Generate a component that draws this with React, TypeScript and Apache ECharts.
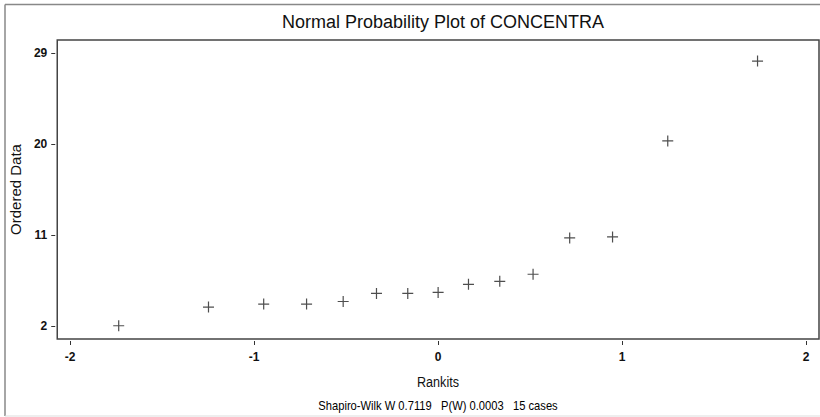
import React, { useEffect, useRef } from "react";
import * as echarts from "echarts";

const rankits = [-1.736, -1.248, -0.948, -0.715, -0.516, -0.335, -0.165, 0, 0.165, 0.335, 0.516, 0.715, 0.948, 1.248, 1.736];
const orderedData = [2.0, 3.85, 4.15, 4.15, 4.4, 5.2, 5.2, 5.3, 6.1, 6.4, 7.1, 10.7, 10.8, 20.3, 28.2];
const xTicks = [-2, -1, 0, 1, 2];
const yTicks = [2, 11, 20, 29];
const titleText = "Normal Probability Plot of CONCENTRA";
const xAxisTitle = "Rankits";
const yAxisTitle = "Ordered Data";
const footerText = "Shapiro-Wilk W 0.7119   P(W) 0.0003   15 cases";

const PLUS = "path://M-0.6,-5.5h1.2v4.9h4.9v1.2h-4.9v4.9h-1.2v-4.9h-4.9v-1.2h4.9z";

export default function App() {
  const ref = useRef<HTMLDivElement>(null);
  useEffect(() => {
    if (!ref.current) return;
    const chart = echarts.init(ref.current, null, { renderer: "svg" });
    const points = rankits.map((x, i) => [x, orderedData[i]]);
    chart.setOption({
      animation: false,
      backgroundColor: "#ffffff",
      title: {
        text: titleText,
        left: 438,
        top: 8,
        textAlign: "center",
        textStyle: { fontFamily: "Liberation Sans", fontSize: 18, fontWeight: "normal", color: "#111" },
      },
      grid: {
        left: 57,
        right: 1,
        top: 40,
        bottom: 78,
        show: true,
        borderColor: "#444",
        borderWidth: 1.5,
        backgroundColor: "transparent",
      },
      xAxis: {
        type: "value",
        min: -2.07,
        max: 2.07,
        offset: 2,
        axisLine: { show: false, onZero: false },
        axisTick: { show: true, length: 4, customValues: xTicks, lineStyle: { color: "#333", width: 1 } },
        axisLabel: {
          customValues: xTicks,
          margin: 10,
          fontFamily: "Liberation Sans",
          fontWeight: "bold",
          fontSize: 12,
          color: "#111",
        },
        splitLine: { show: false },
      },
      yAxis: {
        type: "value",
        min: 0.69,
        max: 30.29,
        offset: 2,
        name: yAxisTitle,
        nameLocation: "middle",
        nameGap: 30,
        nameTextStyle: { fontFamily: "Liberation Sans", fontSize: 15, color: "#111" },
        axisLine: { show: false, onZero: false },
        axisTick: { show: true, length: 4, customValues: yTicks, lineStyle: { color: "#333", width: 1 } },
        axisLabel: {
          customValues: yTicks,
          margin: 8,
          fontFamily: "Liberation Sans",
          fontWeight: "bold",
          fontSize: 12,
          color: "#111",
        },
        splitLine: { show: false },
      },
      graphic: [
        {
          type: "line",
          silent: true,
          shape: { x1: 5, y1: 4.5, x2: 820, y2: 4.5 },
          style: { stroke: "#888", lineWidth: 1.5 },
        },
        {
          type: "line",
          silent: true,
          shape: { x1: 5, y1: 4.5, x2: 5, y2: 416 },
          style: { stroke: "#888", lineWidth: 1.5 },
        },
        {
          type: "line",
          silent: true,
          shape: { x1: 5, y1: 416, x2: 820, y2: 416 },
          style: { stroke: "#ddd", lineWidth: 1 },
        },
        {
          type: "text",
          x: 438,
          y: 382,
          scaleX: 0.84,
          style: {
            text: xAxisTitle,
            textAlign: "center",
            textVerticalAlign: "middle",
            fontFamily: "Liberation Sans",
            fontSize: 15,
            fill: "#111",
          },
        },
        {
          type: "text",
          x: 438,
          y: 406,
          scaleX: 0.86,
          style: {
            text: footerText,
            textAlign: "center",
            textVerticalAlign: "middle",
            fontFamily: "Liberation Sans",
            fontSize: 13,
            fill: "#000",
          },
        },
      ],
      series: [
        {
          type: "scatter",
          data: points,
          symbol: PLUS,
          symbolSize: 11,
          itemStyle: { color: "#222" },
        },
      ],
    });
    return () => chart.dispose();
  }, []);
  return (
    <div
      ref={ref}
      style={{ position: "fixed", left: 0, top: 0, width: 820, height: 417 }}
    />
  );
}
